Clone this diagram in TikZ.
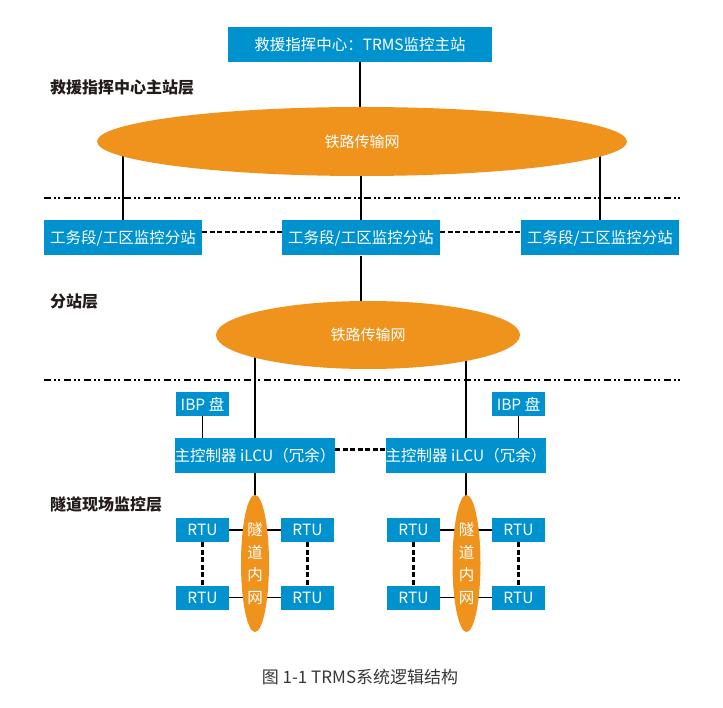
\documentclass[tikz,border=0pt]{standalone}
\usepackage{fontspec}
\setmainfont{Noto Sans CJK SC}
\usetikzlibrary{shapes.geometric,backgrounds}
\definecolor{boxblue}{RGB}{0,146,206}
\definecolor{netorange}{RGB}{239,147,29}
\definecolor{labelgray}{RGB}{35,28,26}
\definecolor{captiongray}{RGB}{55,55,55}

\begin{document}
\begin{tikzpicture}[x=1pt,y=-1pt,
    bluebox/.style={fill=boxblue,text=white,inner sep=0pt,font=\fontsize{15.5}{18}\selectfont},
    bigbox/.style={bluebox,minimum width=158pt,minimum height=35pt},
    smallbox/.style={bluebox,minimum width=53pt,minimum height=24pt},
    netcloud/.style={ellipse,fill=netorange,text=white,inner sep=0pt,font=\fontsize{15}{18}\selectfont},
    tunnelnet/.style={netcloud,minimum width=28pt,minimum height=137pt,align=center,font=\fontsize{15.5}{22.5}\selectfont},
    layername/.style={anchor=west,inner sep=0pt,text=labelgray,font=\fontsize{16}{18}\selectfont\bfseries},
    sepline/.style={line width=2.8pt,dash pattern=on 7pt off 3pt on 2pt off 2pt on 2pt off 4pt},
    linkdash/.style={line width=2.6pt,dash pattern=on 5pt off 2.5pt},
    wire/.style={line width=1.2pt}]
    \useasboundingbox (0,0) rectangle (723,708);

    \node[bluebox,minimum width=264pt,minimum height=35pt] (top) at (360,44.5) {救援指挥中心：TRMS监控主站};
    \node[layername] (lay1) at (50,87) {救援指挥中心主站层};
    \node[netcloud,minimum width=530pt,minimum height=69pt] (net1) at (362,141.5) {铁路传输网};

    \coordinate (sepA1) at (44,198);
    \coordinate (sepA2) at (680,198);
    \draw[sepline] (sepA1) -- (sepA2);

    \node[bigbox] (st1) at (123,238) {工务段/工区监控分站};
    \node[bigbox] (st2) at (361,238) {工务段/工区监控分站};
    \node[bigbox] (st3) at (600,238) {工务段/工区监控分站};

    \node[layername] (lay2) at (50,302) {分站层};
    \node[netcloud,minimum width=304pt,minimum height=68pt] (net2) at (368,335) {铁路传输网};

    \coordinate (sepB1) at (44,380);
    \coordinate (sepB2) at (680,380);
    \draw[sepline] (sepB1) -- (sepB2);

    \node[smallbox] (ibpL) at (202.5,404) {IBP 盘};
    \node[smallbox] (ibpR) at (518.5,404) {IBP 盘};
    \node[bigbox] (ctlL) at (255,455.5) {主控制器 iLCU（冗余）};
    \node[bigbox] (ctlR) at (466,455.5) {主控制器 iLCU（冗余）};

    \node[layername] (lay3) at (50,504) {隧道现场监控层};

    \node[tunnelnet] (tnlL) at (255,563.5) {隧\\道\\内\\网};
    \node[tunnelnet] (tnlR) at (466.5,563.5) {隧\\道\\内\\网};

    \node[smallbox] (rtuL1) at (202.5,530) {RTU};
    \node[smallbox] (rtuL2) at (307.5,530) {RTU};
    \node[smallbox] (rtuL3) at (202.5,597.5) {RTU};
    \node[smallbox] (rtuL4) at (307.5,597.5) {RTU};
    \node[smallbox] (rtuR1) at (413.5,530) {RTU};
    \node[smallbox] (rtuR2) at (518.5,530) {RTU};
    \node[smallbox] (rtuR3) at (413.5,597.5) {RTU};
    \node[smallbox] (rtuR4) at (518.5,597.5) {RTU};

    \node[text=captiongray,font=\fontsize{17}{18}\selectfont] (cap) at (360,677) {图 1-1 TRMS系统逻辑结构};

    \begin{scope}[on background layer]
    \draw[wire] (top.south) -- (top.south |- net1.center);
    \draw[wire] (st1.north) -- (st1.north |- net1.center);
    \draw[wire] (st2.north) -- (st2.north |- net1.center);
    \draw[wire] (st3.north) -- (st3.north |- net1.center);
    \draw[wire] (st2.south) -- (st2.south |- net2.center);
    \draw[wire] (ctlL.north) -- (ctlL.north |- net2.center);
    \draw[wire] (ctlR.north) -- (ctlR.north |- net2.center);
    \draw[wire] (ibpL) -- (ibpL |- ctlL.center);
    \draw[wire] (ibpR) -- (ibpR |- ctlR.center);
    \draw[wire] (ctlL.south) -- (ctlL.south |- tnlL.center);
    \draw[wire] (ctlR.south) -- (ctlR.south |- tnlR.center);
    \draw[wire] (rtuL1.east) -- (rtuL2.west);
    \draw[wire] (rtuL3.east) -- (rtuL4.west);
    \draw[wire] (rtuR1.east) -- (rtuR2.west);
    \draw[wire] (rtuR3.east) -- (rtuR4.west);
    \end{scope}

    \draw[linkdash] ([yshift=6pt]st1.east) -- ([yshift=6pt]st2.west);
    \draw[linkdash] ([yshift=6pt]st2.east) -- ([yshift=6pt]st3.west);
    \draw[linkdash] ([yshift=6pt]ctlL.east) -- ([yshift=6pt]ctlR.west);
    \draw[linkdash] (rtuL1.south) -- (rtuL3.north);
    \draw[linkdash] (rtuL2.south) -- (rtuL4.north);
    \draw[linkdash] (rtuR1.south) -- (rtuR3.north);
    \draw[linkdash] (rtuR2.south) -- (rtuR4.north);
\end{tikzpicture}
\end{document}
